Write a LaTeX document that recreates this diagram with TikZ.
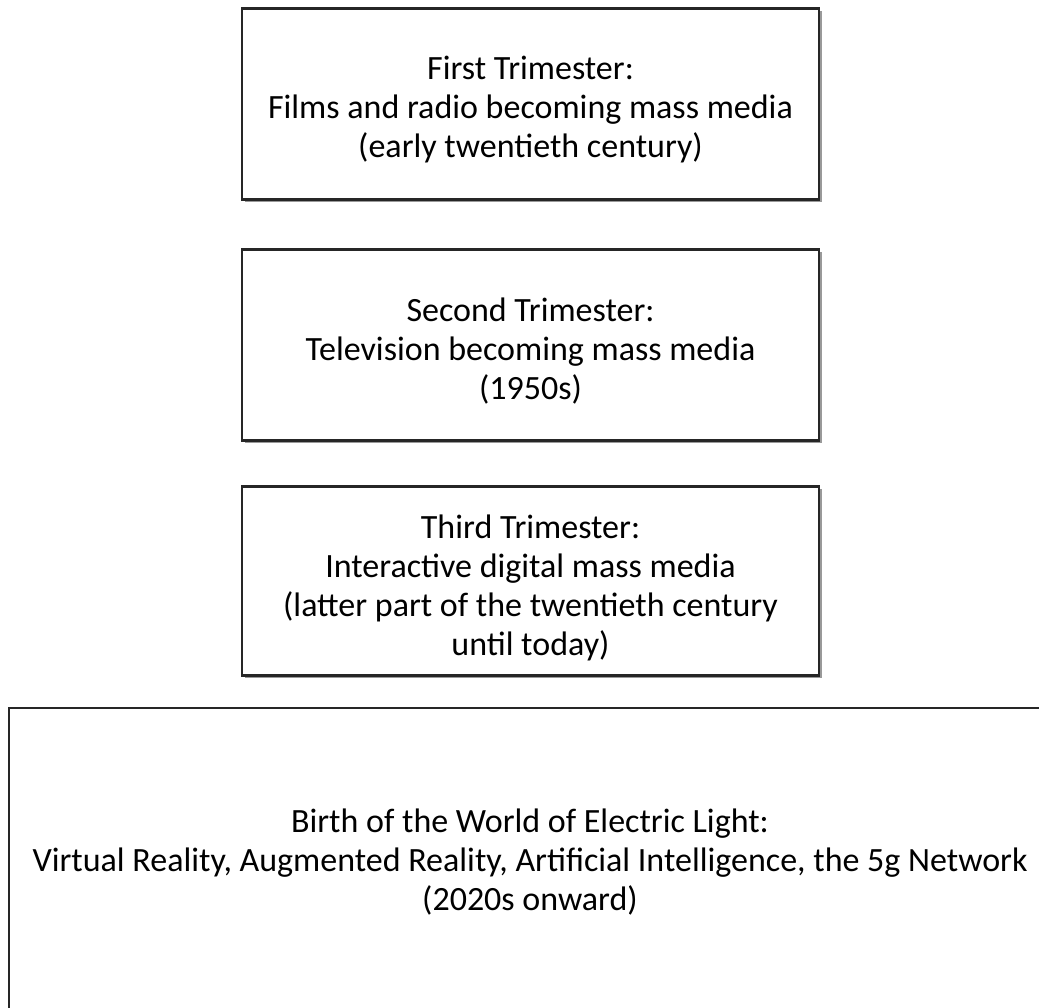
\documentclass[tikz,border=0pt]{standalone}
\usepackage{fontspec}
\setmainfont{Carlito}
\usetikzlibrary{shadows}
\begin{document}
\begin{tikzpicture}[x=1pt,y=1pt,
  stagebox/.style={draw=black!85, line width=2.5pt, fill=white, inner sep=0pt,
    drop shadow={shadow xshift=2.5pt, shadow yshift=-2.5pt, opacity=0.4, fill=black}},
  stagetext/.style={align=center, inner sep=0pt, font=\fontsize{34}{39}\selectfont}]
\useasboundingbox (0,0) rectangle (1039,-1008);
\clip (0,0) rectangle (1039,-1008);
\fill[white] (0,0) rectangle (1039,-1008);
\node[stagebox, minimum width=577, minimum height=191] (b1) at (530.5,-104) {};
\node[stagetext, yshift=-6] (t1) at (b1.center)
  {First Trimester:\\Films and radio becoming mass media\\(early twentieth century)};
\node[stagebox, minimum width=577, minimum height=191] (b2) at (530.5,-345) {};
\node[stagetext, yshift=-6] (t2) at (b2.center)
  {Second Trimester:\\Television becoming mass media\\(1950s)};
\node[stagebox, minimum width=577, minimum height=189] (b3) at (530.5,-581) {};
\node[stagetext, yshift=-7] (t3) at (b3.center)
  {Third Trimester:\\Interactive digital mass media\\(latter part of the twentieth century\\until today)};
\node[stagebox, minimum width=1044, minimum height=320] (b4) at (531,-868) {};
\node[stagetext] (t4) at (530,-862)
  {Birth of the World of Electric Light:\\Virtual Reality, Augmented Reality, Artificial Intelligence, the 5g Network\\(2020s onward)};
\end{tikzpicture}
\end{document}
